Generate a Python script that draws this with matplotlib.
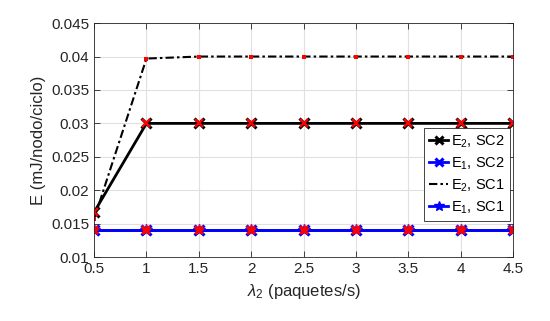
import matplotlib
matplotlib.use("Agg")
import matplotlib.pyplot as plt

plt.rcParams['font.family'] = ['Liberation Sans', 'DejaVu Sans']
plt.rcParams['mathtext.fontset'] = 'custom'
plt.rcParams['mathtext.rm'] = 'Liberation Sans'
plt.rcParams['mathtext.it'] = 'Liberation Sans:italic'
plt.rcParams['mathtext.default'] = 'regular'

lam = [0.5, 1, 1.5, 2, 2.5, 3, 3.5, 4, 4.5]
e2_sc2 = [0.0167, 0.030, 0.030, 0.030, 0.030, 0.030, 0.030, 0.030, 0.030]
e1_sc2 = [0.014, 0.014, 0.014, 0.014, 0.014, 0.014, 0.014, 0.014, 0.014]
e2_sc1 = [0.0157, 0.0397, 0.040, 0.040, 0.040, 0.040, 0.040, 0.040, 0.040]
e1_sc1 = [0.014, 0.014, 0.014, 0.014, 0.014, 0.014, 0.014, 0.014, 0.014]
xticks = [0.5, 1, 1.5, 2, 2.5, 3, 3.5, 4, 4.5]
yticks = [0.01, 0.015, 0.02, 0.025, 0.03, 0.035, 0.04, 0.045]

fig = plt.figure(figsize=(5.5, 3.21), dpi=100)
ax = fig.add_axes([0.171, 0.199, 0.762, 0.729])

l1, = ax.plot(lam, e2_sc2, '-', color='black', lw=2, marker='x', ms=6.5, mew=2.2, label='E$_2$, SC2')
l2, = ax.plot(lam, e1_sc2, '-', color='blue', lw=2, marker='x', ms=6.5, mew=2.2, label='E$_1$, SC2')
l3, = ax.plot(lam, e2_sc1, color='black', lw=1.5, dashes=(4, 1.5, 1.2, 1.5), label='E$_2$, SC1')
l4, = ax.plot(lam, e1_sc1, '-', color='blue', lw=2, marker='*', ms=9, mew=1, label='E$_1$, SC1')
# red overlay markers
ax.plot(lam, e2_sc2, 'x', color='red', ms=6, mew=1.7)
ax.plot(lam, e1_sc2, 'x', color='red', ms=6, mew=1.7)
ax.plot(lam, e2_sc1, 's', color='red', ms=3.2, mew=0)
ax.plot(lam, e1_sc1, '*', color='red', ms=8, mew=0.5)

ax.set_xlim(0.5, 4.5)
ax.set_ylim(0.01, 0.045)
ax.set_xticks(xticks)
ax.set_xticklabels([f'{v:g}' for v in xticks])
ax.set_yticks(yticks)
ax.set_yticklabels([f'{v:g}' for v in yticks])
ax.grid(True, color='#e0e0e0', lw=0.8)
ax.set_axisbelow(True)
for s in ax.spines.values():
    s.set_color('#262626')
    s.set_linewidth(0.6)
ax.tick_params(direction='in', labelsize=11, colors='#262626', length=4, width=0.6, top=True, right=True)
ax.set_xlabel('$\\mathit{\\lambda}_2$ (paquetes/s)', fontsize=12, color='#262626')
ax.set_ylabel('E (mJ/nodo/ciclo)', fontsize=12, color='#262626')

leg = ax.legend(handles=[l1, l2, l3, l4], loc='lower right', bbox_to_anchor=(0.993, 0.155),
                fontsize=10.5, handlelength=1.3, handletextpad=0.2, borderpad=0.35,
                labelspacing=0.38, fancybox=False, edgecolor='#262626', framealpha=1,
                borderaxespad=0, markerscale=0.8)
leg.get_frame().set_linewidth(0.6)

fig.savefig('out.png', dpi=100)
